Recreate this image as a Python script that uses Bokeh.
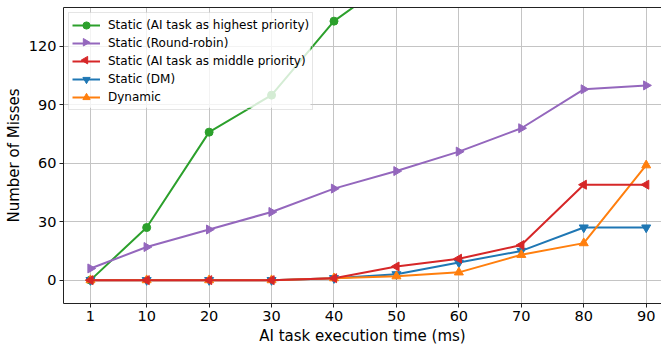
import math
from bokeh.plotting import figure
from bokeh.models import (ColumnDataSource, FixedTicker, Legend, LegendItem,
                          LinearAxis, Range1d, BoxAnnotation)
from bokeh.embed import file_html
from bokeh.resources import INLINE

# ---- data ----
exec_time = [1, 10, 20, 30, 40, 50, 60, 70, 80, 90]
highest_x = [1, 10, 20, 30, 40, 50]
highest = [0, 27, 76, 95, 133, 156]
round_robin = [6, 17, 26, 35, 47, 56, 66, 78, 98, 100]
middle = [0, 0, 0, 0, 1, 7, 11, 18, 49, 49]
dm = [0, 0, 0, 0, 1, 3, 9, 15, 27, 27]
dynamic = [0, 0, 0, 0, 1, 2, 4, 13, 19, 59]

x_ticks = [1, 10, 20, 30, 40, 50, 60, 70, 80, 90]
y_ticks = [0, 30, 60, 90, 120]

labels = ["Static (AI task as highest priority)", "Static (Round-robin)",
          "Static (AI task as middle priority)", "Static (DM)", "Dynamic"]

FONT = "DejaVu Sans"
W, H = 661, 347
B_LEFT, B_TOP, B_BOTTOM = 63, 7, 42
FRAME_W = W - B_LEFT
FRAME_H = H - B_TOP - B_BOTTOM
X0, X1 = -3.32, 92.45
Y0, Y1 = -12, 140

p = figure(width=W, height=H, output_backend="svg", toolbar_location=None,
           x_range=Range1d(X0, X1), y_range=Range1d(Y0, Y1),
           min_border_left=B_LEFT, min_border_right=0, min_border_top=B_TOP,
           min_border_bottom=B_BOTTOM, background_fill_color="white",
           border_fill_color="white")
p.outline_line_color = None

# axes
for ax in (p.xaxis[0], p.yaxis[0]):
    ax.axis_line_color = "#222222"
    ax.axis_line_width = 1
    ax.major_tick_line_color = "#222222"
    ax.major_tick_out = 4
    ax.major_tick_in = 0
    ax.minor_tick_line_color = None
    ax.major_label_text_font = FONT
    ax.major_label_text_font_size = "14.5px"
    ax.major_label_text_color = "black"
    ax.axis_label_text_font = FONT
    ax.axis_label_text_font_size = "15px"
    ax.axis_label_text_font_style = "normal"
    ax.axis_label_text_color = "black"
p.xaxis.ticker = FixedTicker(ticks=x_ticks)
p.yaxis.ticker = FixedTicker(ticks=y_ticks)
p.xaxis.axis_label = "AI task execution time (ms)"
p.yaxis.axis_label = "Number of Misses"
p.xaxis.major_label_standoff = 3
p.yaxis.major_label_standoff = 3
p.xaxis.axis_label_standoff = 3
p.yaxis.axis_label_standoff = 3

top_axis = LinearAxis(ticker=FixedTicker(ticks=[]), axis_line_color="#222222",
                      major_tick_line_color=None, minor_tick_line_color=None,
                      major_label_text_font_size="0px", major_tick_out=0,
                      minor_tick_out=0, major_label_standoff=0)
p.add_layout(top_axis, "above")

# grid
p.xgrid.ticker = FixedTicker(ticks=x_ticks)
p.ygrid.ticker = FixedTicker(ticks=y_ticks)
for g in (p.xgrid[0], p.ygrid[0]):
    g.grid_line_color = "#c4c4c4"
    g.grid_line_width = 1

# (x, y, colour, marker, angle, size)
series = [
    (highest_x, highest, "#2ca02c", "circle", 0.0, 8),
    (exec_time, round_robin, "#9467bd", "triangle", -math.pi / 2, 9),
    (exec_time, middle, "#d62728", "triangle", math.pi / 2, 9),
    (exec_time, dm, "#1f77b4", "inverted_triangle", 0.0, 9),
    (exec_time, dynamic, "#ff7f0e", "triangle", 0.0, 9),
]
draw_order = [0, 1, 3, 4, 2]
renderers = {}
for i in draw_order:
    xs, ys, col, mk, ang, sz = series[i]
    src = ColumnDataSource(dict(x=xs, y=ys))
    lr = p.line("x", "y", source=src, line_color=col, line_width=2)
    sr = p.scatter("x", "y", source=src, marker=mk, angle=ang, size=sz,
                   fill_color=col, line_color=col)
    renderers[i] = [lr] if ang != 0.0 else [lr, sr]

LEG_MARGIN, LEG_PAD, ROW_H, GLYPH_W, LEG_W = 5, 3, 18, 28, 242
LEG_H = 2 * LEG_PAD + ROW_H * len(labels)
ux = (X1 - X0) / FRAME_W
uy = (Y1 - Y0) / FRAME_H

# translucent legend background (below the rotated legend markers)
p.add_layout(BoxAnnotation(left=X0 + LEG_MARGIN * ux,
                           right=X0 + (LEG_MARGIN + LEG_W) * ux,
                           top=Y1 - LEG_MARGIN * uy,
                           bottom=Y1 - (LEG_MARGIN + LEG_H) * uy,
                           fill_color="white", fill_alpha=0.8,
                           line_color=None))

items = [LegendItem(label=labels[i], renderers=renderers[i]) for i in range(5)]
legend = Legend(items=items, location="top_left")
legend.margin = LEG_MARGIN
legend.padding = LEG_PAD
legend.spacing = 0
legend.glyph_width = GLYPH_W
legend.glyph_height = ROW_H
legend.label_height = ROW_H
legend.label_standoff = 8
legend.label_text_font = FONT
legend.label_text_font_size = "12px"
legend.label_text_color = "black"
legend.border_line_color = "#cccccc"
legend.border_line_width = 1
legend.background_fill_alpha = 0.0
p.add_layout(legend, "center")

# rotated legend markers (Bokeh's legend glyphs ignore marker angle):
# placed at the legend glyph centres, converted from layout pixels to data units
for i, s in enumerate(series):
    if s[4] == 0.0:
        continue
    px = LEG_MARGIN + LEG_PAD + GLYPH_W / 2
    py = LEG_MARGIN + LEG_PAD + ROW_H * i + ROW_H / 2
    p.scatter([X0 + px * ux], [Y1 - py * uy], marker=s[3], angle=s[4],
              size=7.5, fill_color=s[2], line_color=s[2], level="overlay")

open("out.html", "w").write(file_html(p, INLINE))
